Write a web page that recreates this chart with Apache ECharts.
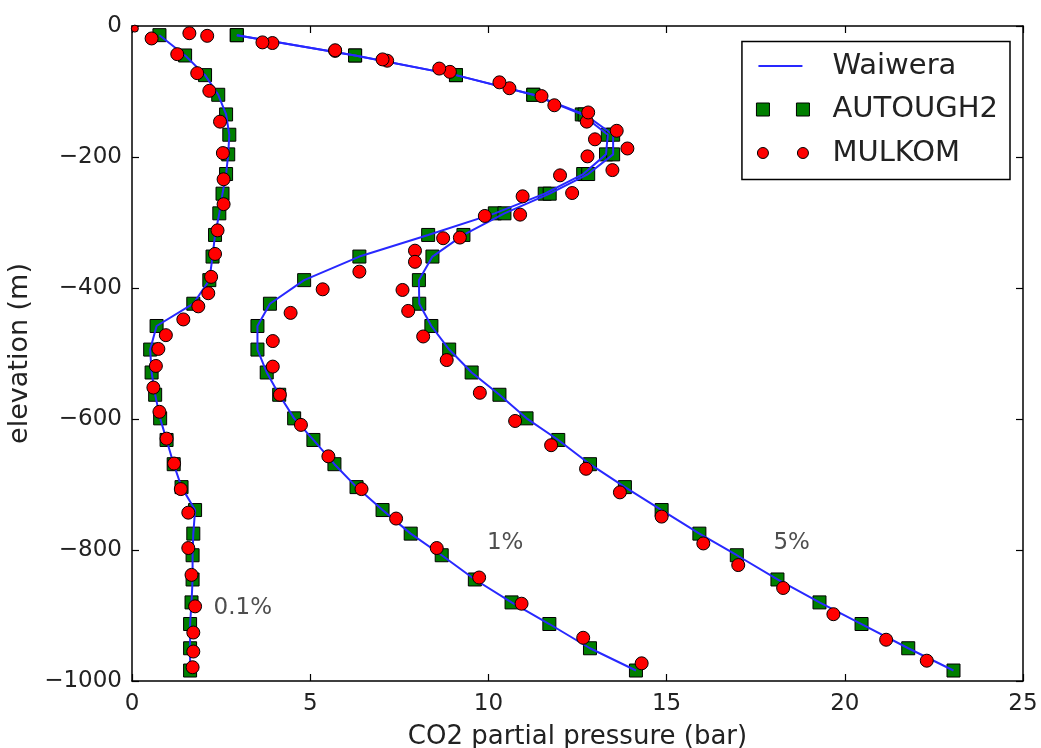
<!DOCTYPE html>
<html><head><meta charset="utf-8">
<script src="https://cdn.jsdelivr.net/npm/echarts@6/dist/echarts.min.js"></script>
<style>html,body{margin:0;padding:0;background:#fff}#chart{width:1041px;height:748px}</style>
</head><body><div id="chart"></div>
<script>
// ---- data ----
// AUTOUGH2 / Waiwera mesh elevations (m)
const elevation = [-14, -45, -75, -105, -135, -166, -196, -226, -256, -286, -319, -352, -388, -424, -458, -494, -529, -563, -599, -632, -669, -704, -739, -775, -808, -845, -880, -913, -950, -984];
// AUTOUGH2 CO2 partial pressure (bar), 0.1%, 1%, 5%
const aut01 = [0.77, 1.49, 2.05, 2.42, 2.64, 2.73, 2.70, 2.64, 2.54, 2.45, 2.33, 2.26, 2.17, 1.72, 0.69, 0.51, 0.55, 0.65, 0.79, 0.97, 1.17, 1.39, 1.77, 1.72, 1.70, 1.70, 1.67, 1.63, 1.63, 1.63];
const aut1  = [2.94, 6.26, 9.09, 11.26, 12.62, 13.35, 13.30, 12.66, 11.58, 10.18, 8.31, 6.38, 4.83, 3.87, 3.52, 3.52, 3.78, 4.13, 4.55, 5.09, 5.68, 6.30, 7.03, 7.82, 8.69, 9.62, 10.65, 11.71, 12.85, 14.14];
const aut5  = [2.94, 6.26, 9.09, 11.26, 12.70, 13.50, 13.50, 12.80, 11.72, 10.45, 9.30, 8.43, 8.05, 8.06, 8.40, 8.90, 9.53, 10.31, 11.07, 11.96, 12.85, 13.83, 14.86, 15.92, 16.97, 18.11, 19.29, 20.47, 21.78, 23.05];
// MULKOM [pressure, elevation]
const mulk01 = [[0.08,-4],[0.55,-19],[1.27,-43],[1.83,-72],[2.17,-99],[2.47,-146],[2.55,-194],[2.57,-234],[2.57,-272],[2.40,-312],[2.33,-348],[2.22,-383],[2.14,-408],[1.86,-428],[1.44,-448],[0.95,-472],[0.74,-493],[0.67,-519],[0.60,-552],[0.77,-589],[0.97,-630],[1.18,-668],[1.37,-707],[1.58,-743],[1.58,-797],[1.67,-838],[1.77,-886],[1.72,-926],[1.72,-955],[1.70,-979]];
const mulk1 = [[2.11,-15],[3.94,-26],[5.70,-38],[7.16,-53],[8.92,-70],[10.59,-95],[11.85,-121],[12.76,-146],[12.99,-173],[12.78,-199],[12.01,-228],[10.96,-260],[9.90,-290],[8.73,-324],[6.38,-375],[5.35,-402],[4.45,-438],[3.95,-481],[3.95,-520],[4.15,-563],[4.74,-609],[5.51,-657],[6.44,-707],[7.41,-752],[8.55,-797],[9.74,-842],[10.93,-882],[12.66,-934],[14.30,-973]];
const mulk5 = [[1.61,-11],[3.66,-25],[5.70,-37],[7.03,-51],[8.62,-65],[10.31,-86],[11.49,-107],[12.80,-132],[13.60,-160],[13.90,-187],[13.48,-220],[12.35,-255],[10.89,-288],[9.20,-323],[7.94,-343],[7.94,-360],[7.59,-403],[7.75,-435],[8.17,-474],[8.83,-510],[9.76,-560],[10.75,-603],[11.76,-640],[12.74,-676],[13.69,-712],[14.86,-749],[16.03,-790],[17.01,-823],[18.27,-858],[19.68,-898],[21.16,-937],[22.30,-969]];
// curve labels
const curveLabels = ['0.1%', '1%', '5%'];
const curveLabelX = [3.11, 10.47, 18.51];
const curveLabelY = [-889, -790, -789];
const xTicks = [0, 5, 10, 15, 20, 25];
const yTicks = [0, -200, -400, -600, -800, -1000];

// ---- build ----
const FONT = 'DejaVu Sans';
const pair = (xs) => xs.map((x, i) => [x, elevation[i]]);
const fmtMinus = (v) => (v < 0 ? '\u2212' + Math.abs(v) : String(v));

const lineColor = '#2828ff';
const sqColor = '#007f00';
const ciColor = '#ff0000';
const MS = 13;

function lineSeries(xs) {
  return { name: 'Waiwera', type: 'line', data: pair(xs), symbol: 'none', showSymbol: false,
    color: lineColor, lineStyle: { color: lineColor, width: 2 }, z: 3, silent: true, animation: false };
}
function squareSeries(xs) {
  return { name: 'AUTOUGH2', type: 'scatter', data: pair(xs), symbol: 'rect', symbolSize: MS,
    itemStyle: { color: sqColor, borderColor: '#000', borderWidth: 1, opacity: 1 }, z: 2, silent: true, animation: false };
}
function circleSeries(pts) {
  return { name: 'MULKOM', type: 'scatter', data: pts, symbol: 'circle',
    // the point sitting on the axes corner is mostly clipped in the original: draw it small
    symbolSize: (v) => (v[0] < 0.2 && v[1] > -8 ? 7 : MS),
    itemStyle: { color: ciColor, borderColor: '#000', borderWidth: 1, opacity: 1 }, z: 4, silent: true, animation: false };
}

const axisLineStyle = { color: '#000', width: 1.5 };
const tickStyle = { show: true, inside: true, length: 7, lineStyle: { color: '#000', width: 1.2 } };
const chart = echarts.init(document.getElementById('chart'), null, { renderer: 'canvas' });
chart.setOption({
  backgroundColor: '#fff',
  animation: false,
  grid: { left: 132, right: 18, top: 26, bottom: 67, containLabel: false, outerBoundsMode: 'none' },
  xAxis: [
    { type: 'value', min: xTicks[0], max: xTicks[xTicks.length - 1], interval: 5, position: 'bottom',
      name: 'CO2 partial pressure (bar)', nameLocation: 'middle', nameGap: 43,
      nameTextStyle: { fontFamily: FONT, fontSize: 26, color: '#222', verticalAlign: 'top' },
      axisLine: { show: true, onZero: false, lineStyle: axisLineStyle },
      axisTick: tickStyle,
      axisLabel: { fontFamily: FONT, fontSize: 23, color: '#222', margin: 12 },
      splitLine: { show: false } },
    { type: 'value', min: xTicks[0], max: xTicks[xTicks.length - 1], interval: 5, position: 'top',
      axisLine: { show: true, onZero: false, lineStyle: axisLineStyle },
      axisTick: tickStyle,
      axisLabel: { show: false }, splitLine: { show: false } }
  ],
  yAxis: [
    { type: 'value', min: yTicks[yTicks.length - 1], max: yTicks[0], interval: 200, position: 'left',
      name: 'elevation (m)', nameLocation: 'middle', nameGap: 99, nameRotate: 90,
      nameTextStyle: { fontFamily: FONT, fontSize: 27, color: '#222' },
      axisLine: { show: true, onZero: false, lineStyle: axisLineStyle },
      axisTick: tickStyle,
      axisLabel: { fontFamily: FONT, fontSize: 23, color: '#222', margin: 10, formatter: fmtMinus },
      splitLine: { show: false } },
    { type: 'value', min: yTicks[yTicks.length - 1], max: yTicks[0], interval: 200, position: 'right',
      axisLine: { show: true, onZero: false, lineStyle: axisLineStyle },
      axisTick: tickStyle,
      axisLabel: { show: false }, splitLine: { show: false } }
  ],
  legend: {
    right: 31, top: 41.5, orient: 'vertical',
    backgroundColor: '#fff', borderColor: '#000', borderWidth: 1.5, borderRadius: 0,
    padding: [9, 12, 11, 14], itemGap: 12.5, itemWidth: 71, itemHeight: 13,
    textStyle: { fontFamily: FONT, fontSize: 29, color: '#222', lineHeight: 31 },
    selectedMode: false,
    data: [
      { name: 'Waiwera', icon: 'path://M0,0L0,0M2,5.6H46V7.4H2Z M71,13L71,13', itemStyle: { color: lineColor, borderWidth: 0 } },
      { name: 'AUTOUGH2', icon: 'path://M0,0H13V13H0Z M40,0H53V13H40Z M71,13L71,13', itemStyle: { color: sqColor, borderColor: '#000', borderWidth: 1 } },
      { name: 'MULKOM', icon: 'path://M1,6.5a5.5,5.5 0 1,0 11,0a5.5,5.5 0 1,0 -11,0Z M41,6.5a5.5,5.5 0 1,0 11,0a5.5,5.5 0 1,0 -11,0Z M0,0L0,0 M71,13L71,13', itemStyle: { color: ciColor, borderColor: '#000', borderWidth: 1 } }
    ]
  },
  series: [
    squareSeries(aut01), squareSeries(aut1), squareSeries(aut5),
    lineSeries(aut01), lineSeries(aut1), lineSeries(aut5),
    circleSeries(mulk01), circleSeries(mulk1), circleSeries(mulk5),
    { name: 'labels', type: 'scatter', symbolSize: 0, silent: true, z: 5,
      data: curveLabels.map((t, i) => ({ name: t, value: [curveLabelX[i], curveLabelY[i]] })),
      label: { show: true, position: 'inside', formatter: (p) => p.name, fontFamily: FONT, fontSize: 23, color: '#222' } }
  ]
});
</script>
</body></html>
